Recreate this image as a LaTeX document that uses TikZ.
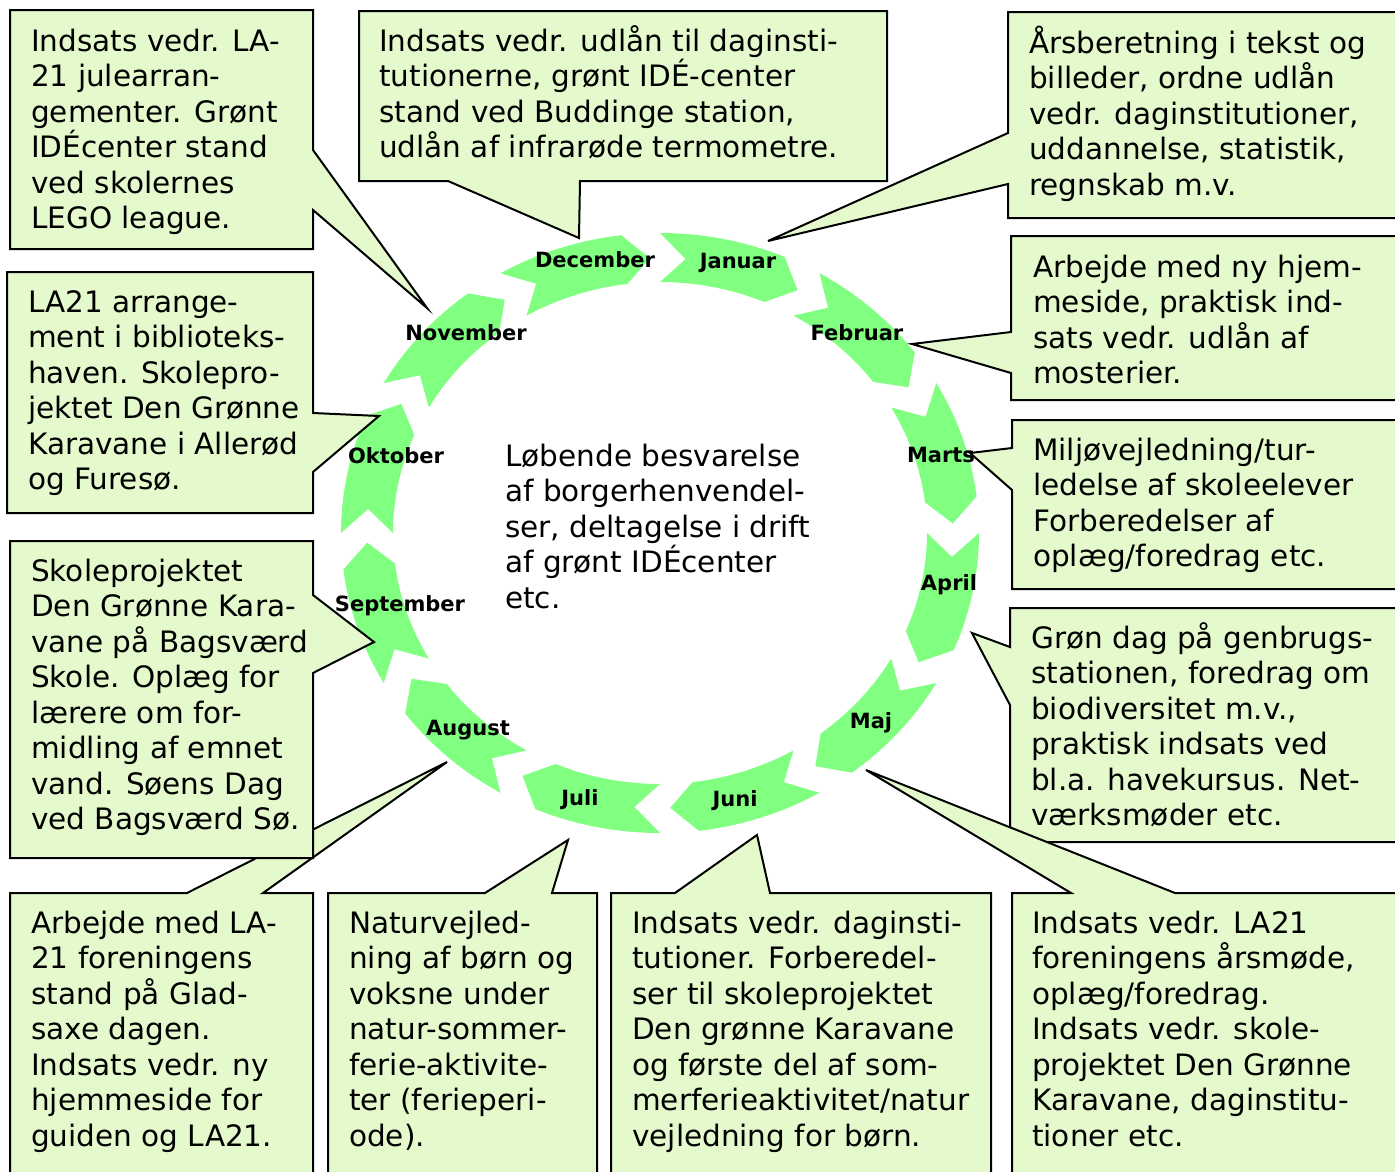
\documentclass[tikz,border=0pt]{standalone}
\usepackage{fontspec}
\setmainfont{DejaVu Sans}

\definecolor{notefill}{RGB}{229,250,204}
\definecolor{monthfill}{RGB}{128,255,128}

\tikzset{
    notebox/.style={fill=notefill, draw=black, line width=2pt, line join=miter},
    notetext/.style={anchor=base west, inner sep=0pt, font=\fontsize{29.5}{35.5}\selectfont},
    monthlabel/.style={anchor=base, inner sep=0pt, font=\fontsize{21}{25}\selectfont\bfseries},
}

% lines of a note, first baseline is the node's baseline
\newcommand{\notelines}[1]{\vtop{\let\\\cr\halign{##\hfil\cr#1\crcr}}}

\begin{document}
\begin{tikzpicture}[x=1pt, y=-1pt]
    \useasboundingbox (0,0) rectangle (1395,1171);

    \def\cx{660}
    \def\cy{533}
    \def\rox{319}
    \def\roy{300}
    \def\rmx{293}
    \def\rmy{275}
    \def\rix{267}
    \def\riy{251}

    % ring of month arrows, clockwise from Januar
    \foreach \k in {0,...,11} {
        \pgfmathsetmacro\aStart{30*\k-90}
        \pgfmathsetmacro\aHead{\aStart+23}
        \pgfmathsetmacro\aTip{\aStart+28}
        \pgfmathsetmacro\aNotch{\aStart+5}
        \fill[monthfill]
            plot[domain=\aStart:\aHead, samples=20] ({\cx+\rox*cos(\x)},{\cy+\roy*sin(\x)})
            -- ({\cx+\rmx*cos(\aTip)},{\cy+\rmy*sin(\aTip)})
            -- plot[domain=\aHead:\aStart, samples=20] ({\cx+\rix*cos(\x)},{\cy+\riy*sin(\x)})
            -- ({\cx+\rmx*cos(\aNotch)},{\cy+\rmy*sin(\aNotch)}) -- cycle;
    }

    % notes with pointers
    \draw[notebox] (10,10) -- (313,10) -- (313,150) -- (427,308) -- (313,210) -- (313,249) -- (10,249) -- cycle;
    \draw[notebox] (359,11) -- (887,11) -- (887,181) -- (580,181) -- (579,238) -- (448,181) -- (359,181) -- cycle;
    \draw[notebox] (1008,12) -- (1400,12) -- (1400,218) -- (1008,218) -- (1008,184) -- (768,241) -- (1008,133) -- cycle;
    \draw[notebox] (1011,236) -- (1400,236) -- (1400,400) -- (1011,400) -- (1011,373) -- (912,344) -- (1011,332) -- cycle;
    \draw[notebox] (1012,420) -- (1400,420) -- (1400,589) -- (1012,589) -- (1012,490) -- (970,453) -- (1012,448) -- cycle;
    \draw[notebox] (1010,608) -- (1400,608) -- (1400,842) -- (1010,842) -- (1010,705) -- (972,633) -- (1010,647) -- cycle;
    \draw[notebox] (1012,893) -- (1071,893) -- (866,770) -- (1175,893) -- (1400,893) -- (1400,1180) -- (1012,1180) -- cycle;
    \draw[notebox] (611,893) -- (675,893) -- (757,835) -- (770,893) -- (991,893) -- (991,1180) -- (611,1180) -- cycle;
    \draw[notebox] (328,893) -- (485,893) -- (568,840) -- (552,893) -- (597,893) -- (597,1180) -- (328,1180) -- cycle;
    \draw[notebox] (10,893) -- (187,893) -- (447,762) -- (263,893) -- (313,893) -- (313,1180) -- (10,1180) -- cycle;
    \draw[notebox] (10,541) -- (313,541) -- (313,595) -- (374,642) -- (313,673) -- (313,858) -- (10,858) -- cycle;
    \draw[notebox] (7,272) -- (313,272) -- (313,413) -- (379,416) -- (313,472) -- (313,513) -- (7,513) -- cycle;

    % note texts
    \node[notetext] (txtnov) at (31,51) {\notelines{Indsats vedr. LA-\\21 julearran-\\gementer. Grønt\\IDÉcenter stand\\ved skolernes\\LEGO league.}};
    \node[notetext] (txtdec) at (379,51) {\notelines{Indsats vedr. udlån til daginsti-\\tutionerne, grønt IDÉ-center\\stand ved Buddinge station,\\udlån af infrarøde termometre.}};
    \node[notetext] (txtjan) at (1029,53) {\notelines{Årsberetning i tekst og\\billeder, ordne udlån\\vedr. daginstitutioner,\\uddannelse, statistik,\\regnskab m.v.}};
    \node[notetext] (txtfeb) at (1033,277) {\notelines{Arbejde med ny hjem-\\meside, praktisk ind-\\sats vedr. udlån af\\mosterier.}};
    \node[notetext] (txtmar) at (1033,460) {\notelines{Miljøvejledning/tur-\\ledelse af skoleelever\\Forberedelser af\\oplæg/foredrag etc.}};
    \node[notetext] (txtapr) at (1031,648) {\notelines{Grøn dag på genbrugs-\\stationen, foredrag om\\biodiversitet m.v.,\\praktisk indsats ved\\bl.a. havekursus. Net-\\værksmøder etc.}};
    \node[notetext] (txtmaj) at (1032,933) {\notelines{Indsats vedr. LA21\\foreningens årsmøde,\\oplæg/foredrag.\\Indsats vedr. skole-\\projektet Den Grønne\\Karavane, daginstitu-\\tioner etc.}};
    \node[notetext] (txtjun) at (632,933) {\notelines{Indsats vedr. daginsti-\\tutioner. Forberedel-\\ser til skoleprojektet\\Den grønne Karavane\\og første del af som-\\merferieaktivitet/natur\\vejledning for børn.}};
    \node[notetext] (txtjul) at (349,933) {\notelines{Naturvejled-\\ning af børn og\\voksne under\\natur-sommer-\\ferie-aktivite-\\ter (ferieperi-\\ode).}};
    \node[notetext] (txtaug) at (31,933) {\notelines{Arbejde med LA-\\21 foreningens\\stand på Glad-\\saxe dagen.\\Indsats vedr. ny\\hjemmeside for\\guiden og LA21.}};
    \node[notetext] (txtsep) at (31,581) {\notelines{Skoleprojektet\\Den Grønne Kara-\\vane på Bagsværd\\Skole. Oplæg for\\lærere om for-\\midling af emnet\\vand. Søens Dag\\ved Bagsværd Sø.}};
    \node[notetext] (txtokt) at (28,312) {\notelines{LA21 arrange-\\ment i biblioteks-\\haven. Skolepro-\\jektet Den Grønne\\Karavane i Allerød\\og Furesø.}};
    \node[notetext] (txtmid) at (505,466) {\notelines{Løbende besvarelse\\af borgerhenvendel-\\ser, deltagelse i drift\\af grønt IDÉcenter\\etc.}};

    % month names
    \node[monthlabel] (lbljan) at (738,268) {Januar};
    \node[monthlabel] (lblfeb) at (857,340) {Februar};
    \node[monthlabel] (lblmar) at (941,462) {Marts};
    \node[monthlabel] (lblapr) at (949,590) {April};
    \node[monthlabel] (lblmaj) at (871,728) {Maj};
    \node[monthlabel] (lbljun) at (735,806) {Juni};
    \node[monthlabel] (lbljul) at (580,805) {Juli};
    \node[monthlabel] (lblaug) at (468,735) {August};
    \node[monthlabel] (lblsep) at (400,611) {September};
    \node[monthlabel] (lblokt) at (396,463) {Oktober};
    \node[monthlabel] (lblnov) at (466,340) {November};
    \node[monthlabel] (lbldec) at (595,267) {December};
\end{tikzpicture}
\end{document}
